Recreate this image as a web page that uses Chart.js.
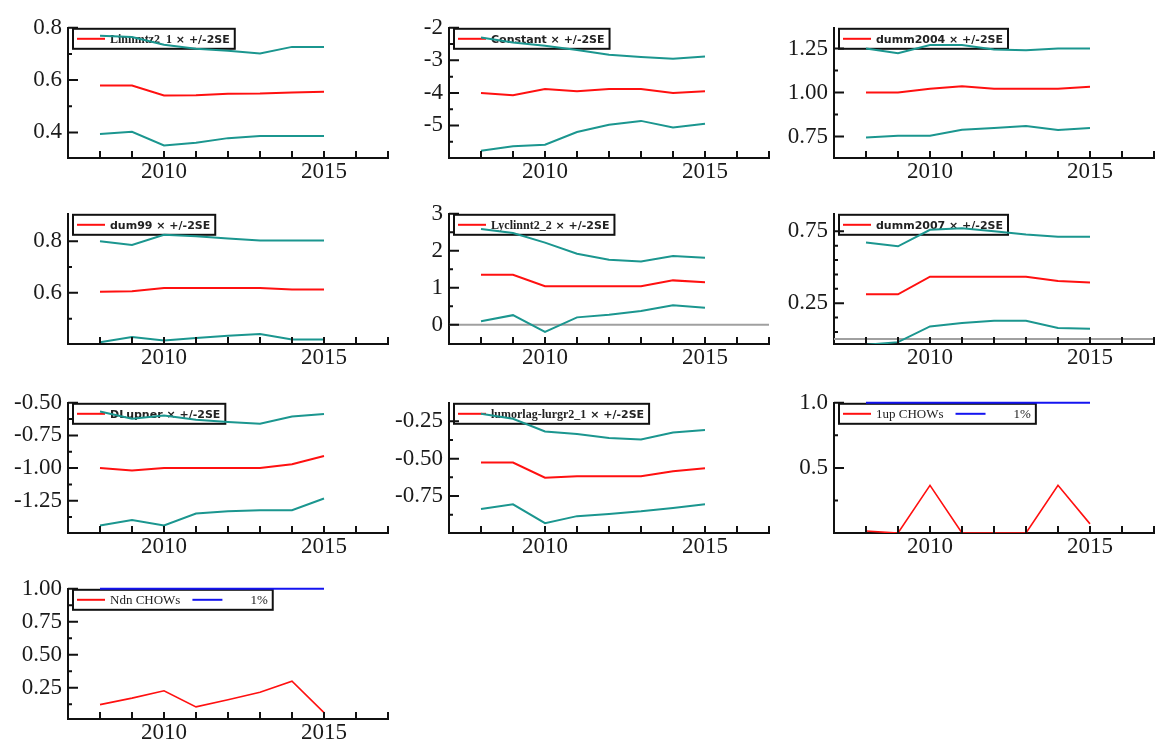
<!DOCTYPE html>
<html>
<head>
<meta charset="utf-8">
<script src="https://cdn.jsdelivr.net/npm/chart.js@4.4.0/dist/chart.umd.min.js"></script>
<style>
html, body { margin: 0; padding: 0; background: #fff; overflow: hidden; }
#wrap { position: relative; width: 1155px; height: 754px; }
#wrap canvas { position: absolute; }
</style>
</head>
<body>
<div id="wrap"></div>
<script>
// Recursive estimates, 2008-2015
const years = [2008, 2009, 2010, 2011, 2012, 2013, 2014, 2015];
const xRange = [2007, 2017];
const xTickLabels = ['2010', '2015'];

// Linnmtz2_1
const linEst = [0.579, 0.579, 0.541, 0.542, 0.548, 0.549, 0.553, 0.555];
const linHi = [0.770, 0.765, 0.735, 0.720, 0.712, 0.702, 0.727, 0.727];
const linLo = [0.394, 0.402, 0.350, 0.360, 0.378, 0.386, 0.386, 0.386];
const linRange = [0.302, 0.8];
const linLabels = ['0.4', '0.6', '0.8'];

// Constant
const conEst = [-4.0, -4.07, -3.88, -3.95, -3.88, -3.88, -4.0, -3.95];
const conHi = [-2.3, -2.45, -2.55, -2.68, -2.83, -2.9, -2.95, -2.88];
const conLo = [-5.78, -5.64, -5.59, -5.2, -4.98, -4.86, -5.06, -4.95];
const conRange = [-6.0, -2.0];
const conLabels = ['-5', '-4', '-3', '-2'];

// dumm2004
const d04Est = [1.0, 1.0, 1.022, 1.036, 1.022, 1.022, 1.022, 1.033];
const d04Hi = [1.25, 1.223, 1.27, 1.27, 1.245, 1.24, 1.25, 1.25];
const d04Lo = [0.744, 0.755, 0.755, 0.789, 0.798, 0.81, 0.787, 0.798];
const d04Range = [0.628, 1.368];
const d04Labels = ['0.75', '1.00', '1.25'];

// dum99
const d99Est = [0.604, 0.606, 0.619, 0.619, 0.619, 0.619, 0.6125, 0.6125];
const d99Hi = [0.80, 0.785, 0.825, 0.819, 0.81, 0.8025, 0.8025, 0.8025];
const d99Lo = [0.409, 0.429, 0.416, 0.425, 0.434, 0.441, 0.419, 0.419];
const d99Range = [0.402, 0.906];
const d99Labels = ['0.6', '0.8'];

// Lyclinnt2_2
const lycEst = [1.35, 1.35, 1.04, 1.04, 1.04, 1.04, 1.2, 1.15];
const lycHi = [2.59, 2.48, 2.22, 1.92, 1.76, 1.71, 1.86, 1.81];
const lycLo = [0.095, 0.26, -0.19, 0.2, 0.27, 0.37, 0.53, 0.46];
const lycRange = [-0.52, 3.0];
const lycLabels = ['0', '1', '2', '3'];

// dumm2007
const d07Est = [0.312, 0.312, 0.434, 0.434, 0.434, 0.434, 0.405, 0.394];
const d07Hi = [0.672, 0.646, 0.761, 0.772, 0.75, 0.728, 0.712, 0.712];
const d07Lo = [-0.039, -0.021, 0.088, 0.112, 0.128, 0.128, 0.077, 0.072];
const d07Range = [-0.034, 0.872];
const d07Labels = ['0.25', '0.75'];

// DLupner
const dluEst = [-1.0, -1.018, -1.0, -1.0, -1.0, -1.0, -0.97, -0.908];
const dluHi = [-0.566, -0.622, -0.598, -0.63, -0.647, -0.66, -0.605, -0.585];
const dluLo = [-1.44, -1.397, -1.44, -1.348, -1.33, -1.323, -1.323, -1.233];
const dluRange = [-1.497, -0.5];
const dluLabels = ['-1.25', '-1.00', '-0.75', '-0.50'];

// lumorlag-lurgr2_1
const lumEst = [-0.526, -0.526, -0.628, -0.618, -0.618, -0.618, -0.585, -0.564];
const lumHi = [-0.2, -0.233, -0.318, -0.335, -0.361, -0.372, -0.325, -0.308];
const lumLo = [-0.838, -0.806, -0.932, -0.885, -0.87, -0.853, -0.831, -0.806];
const lumRange = [-0.998, -0.126];
const lumLabels = ['-0.75', '-0.50', '-0.25'];

// Chow tests, scaled by 1% critical value
const upChow = [0.015, 0.0, 0.366, 0.0, 0.0, 0.0, 0.366, 0.07];
const upCrit = [1, 1, 1, 1, 1, 1, 1, 1];
const upRange = [0, 1.0];
const upLabels = ['0.5', '1.0'];

const ndnChow = [0.123, 0.172, 0.228, 0.106, 0.16, 0.216, 0.3, 0.0625];
const ndnCrit = [1, 1, 1, 1, 1, 1, 1, 1];
const ndnRange = [0.014, 1.0];
const ndnLabels = ['0.25', '0.50', '0.75', '1.00'];

const RED = '#ff1010';
const TEAL = '#1b968f';
const BLUE = '#1414f0';
const SE = ' \u00d7 +/-2SE';

const panels = [
    { name: 'Linnmtz2_1', serif: true, est: linEst, hi: linHi, lo: linLo, range: linRange, labels: linLabels, minor: 0.1 },
    { name: 'Constant', est: conEst, hi: conHi, lo: conLo, range: conRange, labels: conLabels, minor: 0.5 },
    { name: 'dumm2004', est: d04Est, hi: d04Hi, lo: d04Lo, range: d04Range, labels: d04Labels, minor: 0.125 },
    { name: 'dum99', est: d99Est, hi: d99Hi, lo: d99Lo, range: d99Range, labels: d99Labels, minor: 0.1 },
    { name: 'Lyclinnt2_2', serif: true, est: lycEst, hi: lycHi, lo: lycLo, range: lycRange, labels: lycLabels, minor: 0.5, ref: 0 },
    { name: 'dumm2007', est: d07Est, hi: d07Hi, lo: d07Lo, range: d07Range, labels: d07Labels, minor: 0.1, ref: 0 },
    { name: 'DLupner', est: dluEst, hi: dluHi, lo: dluLo, range: dluRange, labels: dluLabels, minor: 0.125 },
    { name: 'lumorlag-lurgr2_1', serif: true, est: lumEst, hi: lumHi, lo: lumLo, range: lumRange, labels: lumLabels, minor: 0.125 },
    { chow: ['1up CHOWs', '1%'], est: upChow, crit: upCrit, range: upRange, labels: upLabels, minor: 0.25 },
    { chow: ['Ndn CHOWs', '1%'], est: ndnChow, crit: ndnCrit, range: ndnRange, labels: ndnLabels, minor: 0.125 }
];

// grid geometry (plot areas)
const colLeft = [68, 449, 834];
const rowTop = [22, 208, 397, 583];
const PLOT_W = 320, PLOT_H = 136;
const Y_W = 66, PAD_T = 14, X_H = 36, PAD_R = 3;

const sansFont = 'bold 11px "DejaVu Sans"';
const serifFont = 'bold 12px "Liberation Serif"';
const chowFont = '13px "Liberation Serif"';

function pts(vals) {
    return years.map((x, i) => ({ x: x, y: vals[i] }));
}

// inward tick marks, reference line and boxed legend
const oxAxes = {
    id: 'oxAxes',
    beforeDatasetsDraw(chart, args, o) {
        const { ctx, chartArea: a, scales: { y } } = chart;
        ctx.save();
        if (o.ref !== undefined) {
            const py = y.getPixelForValue(o.ref);
            ctx.strokeStyle = '#a0a0a0';
            ctx.lineWidth = 2;
            ctx.beginPath();
            ctx.moveTo(a.left, py);
            ctx.lineTo(a.right, py);
            ctx.stroke();
        }
        // legend
        const left = a.left + 5, top = a.top + 1, h = 20, cy = top + h / 2;
        let x = left + 37;
        const draws = [];
        o.items.forEach((it, i) => {
            let sx0, sx1;
            if (i === 0) { sx0 = left + 4; sx1 = left + 32; }
            else { sx0 = x + 12; sx1 = sx0 + 30; x = sx1 + 28; }
            ctx.font = it.font;
            const w1 = ctx.measureText(it.text).width;
            let w2 = 0;
            if (it.suffix) { ctx.font = sansFont; w2 = ctx.measureText(it.suffix).width; }
            draws.push({ it, sx0, sx1, tx: x, w1 });
            x += w1 + w2;
        });
        const right = x + 5;
        ctx.fillStyle = '#fff';
        ctx.fillRect(left, top, right - left, h);
        ctx.strokeStyle = '#111';
        ctx.lineWidth = 2;
        ctx.strokeRect(left, top, right - left, h);
        draws.forEach(d => {
            ctx.strokeStyle = d.it.color;
            ctx.lineWidth = 2;
            ctx.beginPath();
            ctx.moveTo(d.sx0, cy);
            ctx.lineTo(d.sx1, cy);
            ctx.stroke();
            ctx.fillStyle = '#222';
            ctx.textBaseline = 'middle';
            ctx.font = d.it.font;
            ctx.fillText(d.it.text, d.tx, cy + 1);
            if (d.it.suffix) {
                ctx.font = sansFont;
                ctx.fillText(d.it.suffix, d.tx + d.w1, cy + 1);
            }
        });
        ctx.restore();
    },
    afterDraw(chart, args, o) {
        const { ctx, chartArea: a, scales: { x, y } } = chart;
        ctx.save();
        ctx.strokeStyle = '#111';
        ctx.lineWidth = 2;
        ctx.beginPath();
        x.ticks.forEach(t => {
            const px = x.getPixelForValue(t.value);
            if (px < a.left + 3) return;
            ctx.moveTo(px, a.bottom);
            ctx.lineTo(px, a.bottom - 7);
        });
        y.ticks.forEach(t => {
            const py = y.getPixelForValue(t.value);
            const major = o.majors.some(m => Math.abs(m - t.value) < 1e-6);
            if (!major && (py > a.bottom - 4 || py < a.top + 4)) return;
            ctx.moveTo(a.left, py);
            ctx.lineTo(a.left + (major ? 10 : 4), py);
        });
        ctx.stroke();
        ctx.restore();
    }
};

const wrap = document.getElementById('wrap');

panels.forEach((p, i) => {
    const L = colLeft[i % 3], T = rowTop[Math.floor(i / 3)];
    const cv = document.createElement('canvas');
    const w = Y_W + PLOT_W + PAD_R, h = PAD_T + PLOT_H + X_H;
    cv.width = w; cv.height = h;
    cv.style.left = (L - Y_W) + 'px';
    cv.style.top = (T - PAD_T) + 'px';
    cv.style.width = w + 'px';
    cv.style.height = h + 'px';
    wrap.appendChild(cv);

    const majors = p.labels.map(Number);
    const tickVals = majors.slice();
    for (let v = majors[0] - p.minor; v >= p.range[0] - 1e-9; v -= p.minor) tickVals.push(v);
    for (let v = majors[0] + p.minor; v <= p.range[1] + 1e-9; v += p.minor) {
        if (!majors.some(m => Math.abs(m - v) < 1e-6)) tickVals.push(v);
    }
    tickVals.sort((a, b) => a - b);

    let datasets, items;
    if (p.chow) {
        datasets = [
            { data: pts(p.est), borderColor: RED, borderWidth: 1.6 },
            { data: pts(p.crit), borderColor: BLUE, borderWidth: 2, clip: 4 }
        ];
        items = [
            { text: p.chow[0], font: chowFont, color: RED },
            { text: p.chow[1], font: chowFont, color: BLUE }
        ];
    } else {
        datasets = [
            { data: pts(p.hi), borderColor: TEAL, borderWidth: 2 },
            { data: pts(p.lo), borderColor: TEAL, borderWidth: 2 },
            { data: pts(p.est), borderColor: RED, borderWidth: 2 }
        ];
        items = [{ text: p.name, suffix: SE, font: p.serif ? serifFont : sansFont, color: RED }];
    }
    datasets.forEach(d => { d.pointRadius = 0; d.tension = 0; d.fill = false; });

    const tickFont = { family: '"Liberation Serif"', size: 23 };

    new Chart(cv, {
        type: 'line',
        data: { datasets: datasets },
        options: {
            responsive: false,
            animation: false,
            events: [],
            layout: { padding: { top: PAD_T, right: PAD_R, left: 0, bottom: 0 } },
            plugins: {
                legend: { display: false },
                tooltip: { enabled: false },
                oxAxes: { majors: majors, items: items, ref: p.ref }
            },
            scales: {
                x: {
                    type: 'linear',
                    min: xRange[0],
                    max: xRange[1],
                    afterFit(s) { s.height = X_H; },
                    grid: { display: false, drawTicks: false },
                    border: { display: true, color: '#111', width: 2 },
                    ticks: {
                        stepSize: 1,
                        autoSkip: false,
                        includeBounds: false,
                        maxRotation: 0,
                        padding: 0,
                        color: '#1a1a1a',
                        font: tickFont,
                        callback: v => xTickLabels.includes(String(v)) ? String(v) : ''
                    }
                },
                y: {
                    type: 'linear',
                    min: p.range[0],
                    max: p.range[1],
                    afterFit(s) { s.width = Y_W; },
                    afterBuildTicks(s) { s.ticks = tickVals.map(v => ({ value: v })); },
                    grid: { display: false, drawTicks: false },
                    border: { display: true, color: '#111', width: 2 },
                    ticks: {
                        autoSkip: false,
                        padding: 6,
                        color: '#1a1a1a',
                        font: tickFont,
                        callback: v => {
                            const k = majors.findIndex(m => Math.abs(m - v) < 1e-6);
                            return k >= 0 ? p.labels[k] : '';
                        }
                    }
                }
            }
        },
        plugins: [oxAxes]
    });
});
</script>
</body>
</html>
